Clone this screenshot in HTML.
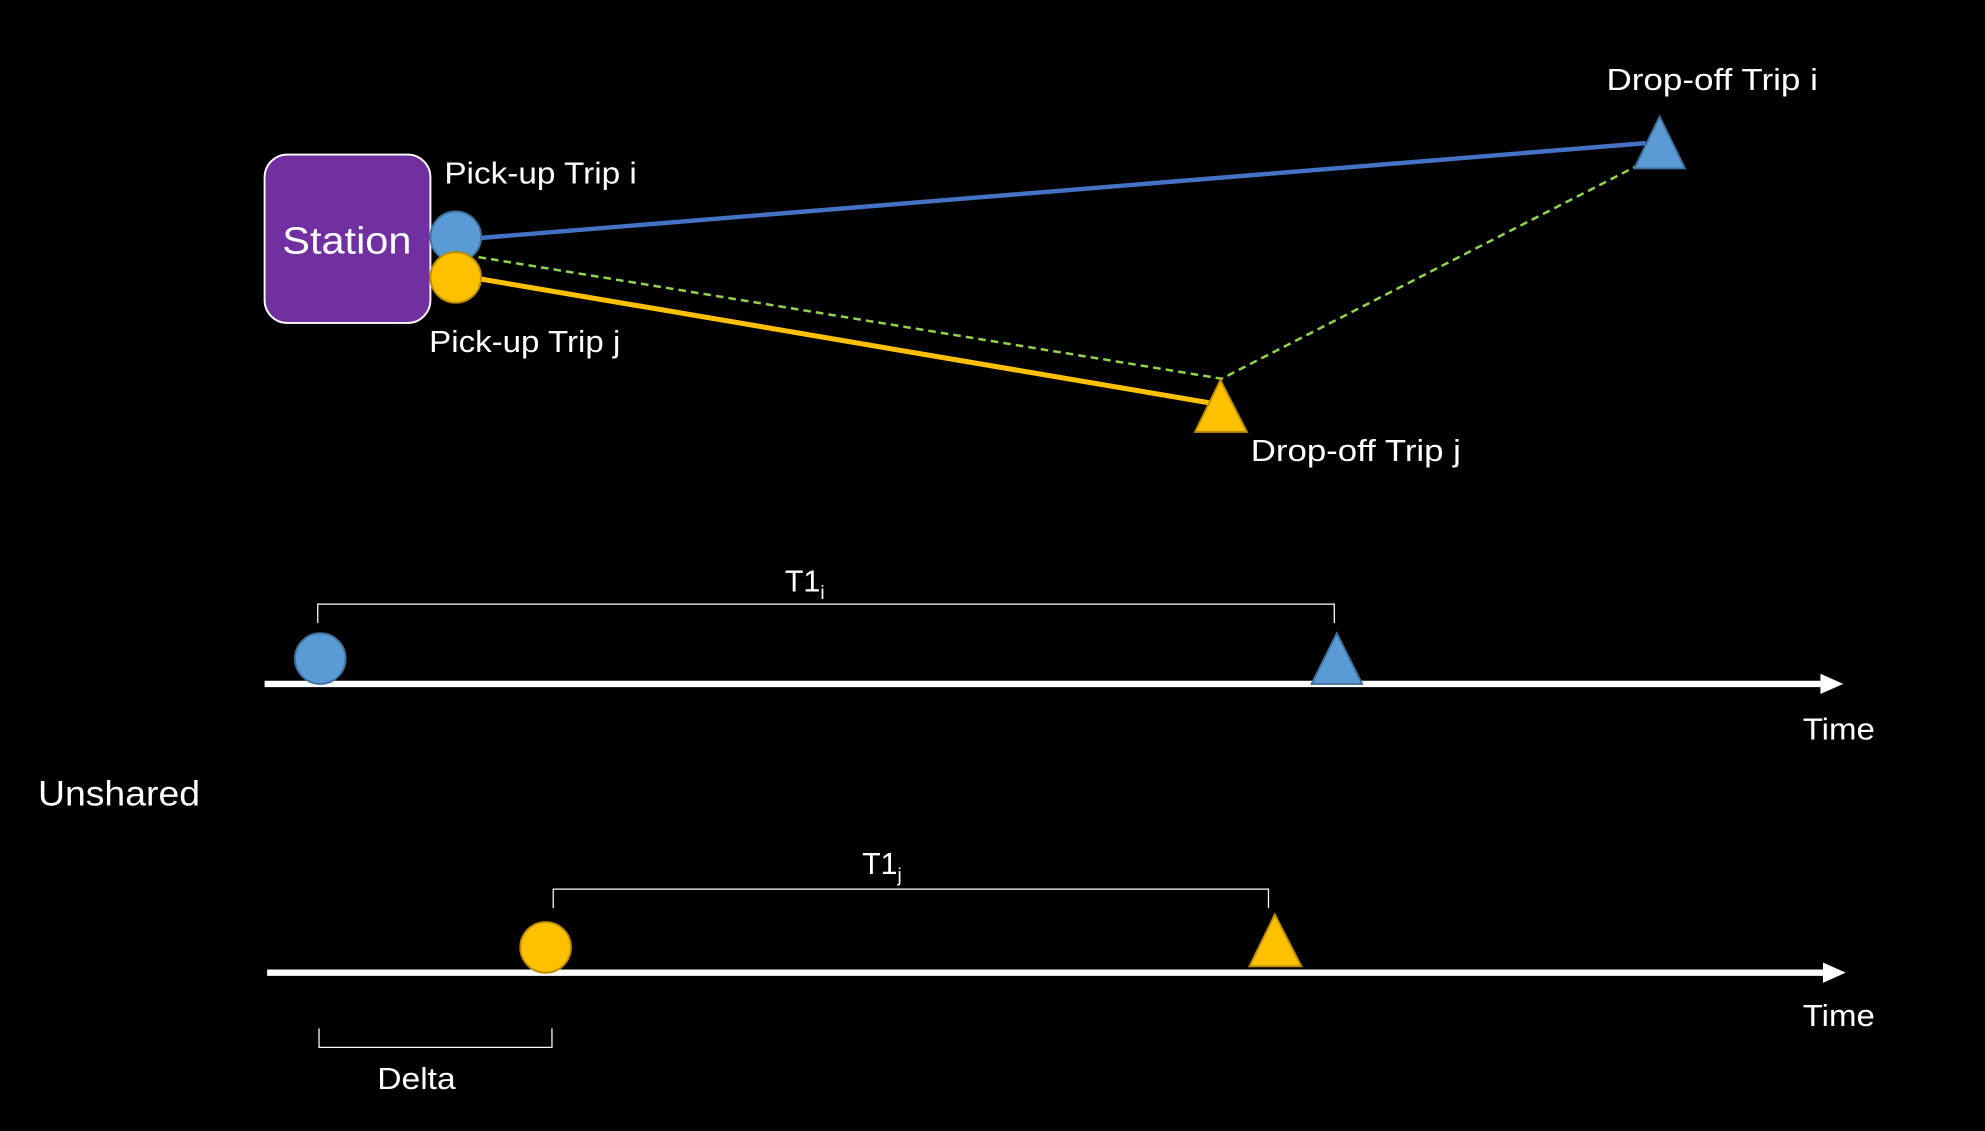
<!DOCTYPE html>
<html><head><meta charset="utf-8"><style>
html,body{margin:0;padding:0;background:#000;overflow:hidden}
svg{display:block}
text{font-family:"Liberation Sans",sans-serif;fill:#fff}
</style></head><body>
<svg width="1985" height="1131" viewBox="0 0 1568 893" preserveAspectRatio="none">
<rect x="0" y="0" width="1568" height="893" fill="#000"/>
<g>
<line x1="378" y1="188" x2="1300" y2="113" stroke="#4472c4" stroke-width="3.5"/>
<line x1="378" y1="220" x2="955" y2="318" stroke="#ffc000" stroke-width="4"/>
<polyline points="378,203 965,299 1295,130" fill="none" stroke="#92d050" stroke-width="2" stroke-dasharray="6,4"/>
<rect x="209" y="122" width="131" height="133" rx="18" fill="#7030a0" stroke="#fff" stroke-width="1.5"/>
<text x="223" y="200" font-size="30" textLength="102" lengthAdjust="spacingAndGlyphs">Station</text>
<circle cx="360" cy="187" r="20" fill="#5b9bd5" stroke="#41719c" stroke-width="1.5"/>
<circle cx="360" cy="219" r="20" fill="#ffc000" stroke="#bc8c00" stroke-width="1.5"/>
<polygon points="1311,92 1291,133 1331,133" fill="#5b9bd5" stroke="#41719c" stroke-width="1.5"/>
<polygon points="964,300 944,341 985,341" fill="#ffc000" stroke="#bc8c00" stroke-width="1.5"/>
<text x="351" y="145" font-size="24" textLength="152" lengthAdjust="spacingAndGlyphs">Pick-up Trip i</text>
<text x="339" y="278" font-size="24" textLength="151" lengthAdjust="spacingAndGlyphs">Pick-up Trip j</text>
<text x="988" y="364" font-size="24" textLength="166" lengthAdjust="spacingAndGlyphs">Drop-off Trip j</text>
<text x="1269" y="71" font-size="24" textLength="167" lengthAdjust="spacingAndGlyphs">Drop-off Trip i</text>
</g>
<g>
<line x1="209" y1="540" x2="1440" y2="540" stroke="#fff" stroke-width="5"/>
<polygon points="1456,540 1438,532 1438,548" fill="#fff"/>
<circle cx="253" cy="520" r="20" fill="#5b9bd5" stroke="#41719c" stroke-width="1.5"/>
<polygon points="1056,500 1036,540 1076,540" fill="#5b9bd5" stroke="#41719c" stroke-width="1.5"/>
<polyline points="251,492 251,477 1054,477 1054,492" fill="none" stroke="#fff" stroke-width="1"/>
<text x="620" y="467" font-size="24">T1<tspan font-size="15" dy="6">i</tspan></text>
<text x="1424" y="584" font-size="24" textLength="57" lengthAdjust="spacingAndGlyphs">Time</text>
</g>
<text x="30" y="636" font-size="28" textLength="128" lengthAdjust="spacingAndGlyphs">Unshared</text>
<g>
<line x1="211" y1="768" x2="1440" y2="768" stroke="#fff" stroke-width="5"/>
<polygon points="1458,768 1440,760 1440,776" fill="#fff"/>
<circle cx="431" cy="748" r="20" fill="#ffc000" stroke="#bc8c00" stroke-width="1.5"/>
<polygon points="1007,722 987,763 1028,763" fill="#ffc000" stroke="#bc8c00" stroke-width="1.5"/>
<polyline points="437,717 437,702 1002,702 1002,717" fill="none" stroke="#fff" stroke-width="1"/>
<text x="681" y="690" font-size="24">T1<tspan font-size="15" dy="6">j</tspan></text>
<text x="1424" y="810" font-size="24" textLength="57" lengthAdjust="spacingAndGlyphs">Time</text>
<polyline points="252,812 252,827 436,827 436,812" fill="none" stroke="#fff" stroke-width="1"/>
<text x="298" y="860" font-size="24" textLength="62" lengthAdjust="spacingAndGlyphs">Delta</text>
</g>
</svg>
</body></html>
